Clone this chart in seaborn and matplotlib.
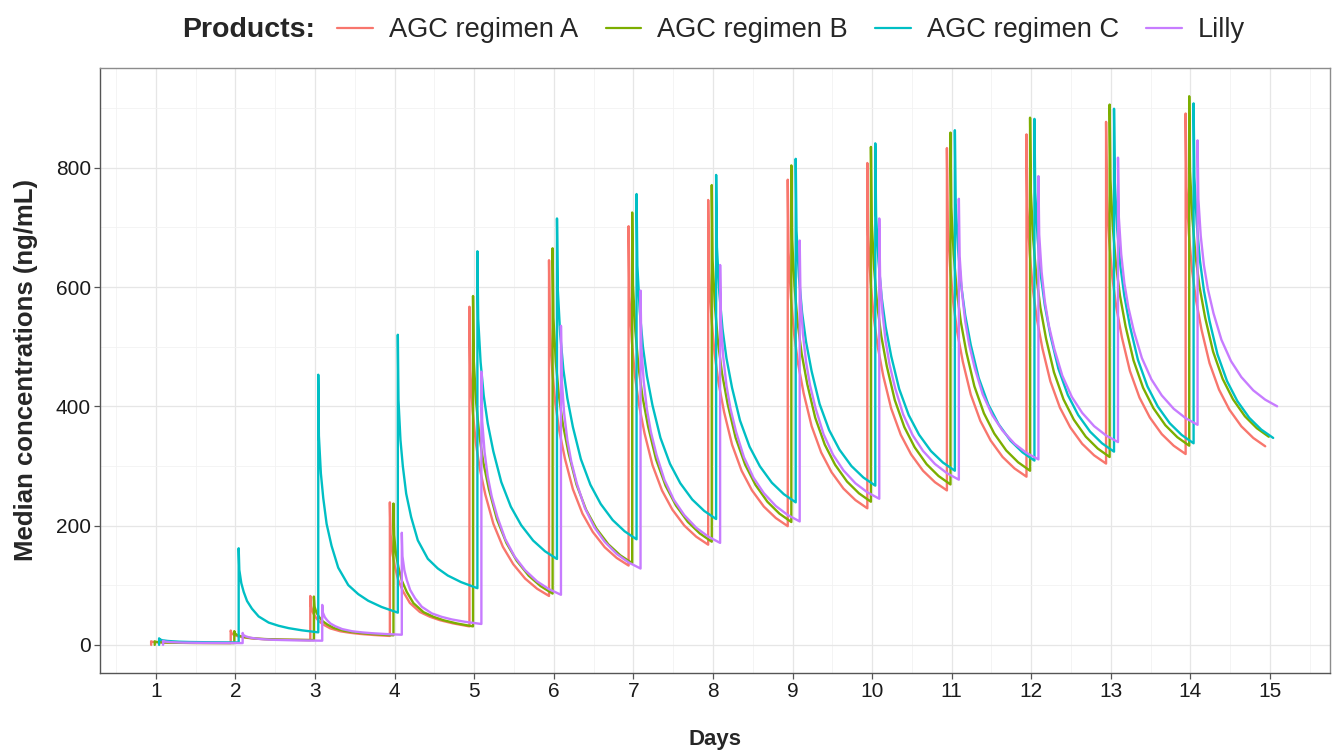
import numpy as np
import pandas as pd
import matplotlib
matplotlib.use("Agg")
import matplotlib.pyplot as plt
from matplotlib.lines import Line2D
from matplotlib.ticker import MultipleLocator
import seaborn as sns

# ---------------- data ----------------
products = ["AGC regimen A", "AGC regimen B", "AGC regimen C", "Lilly"]
colors = ["#F8766D", "#7CAE00", "#00BFC4", "#C77CFF"]
dose_days = list(range(1, 15))
dose_offset = [-0.06, -0.015, 0.04, 0.09]

peak_A = [6, 24, 82, 239, 567, 645, 702, 746, 780, 808, 833, 856, 877, 891]
peak_B = [6, 23, 81, 237, 585, 665, 725, 771, 804, 835, 859, 884, 906, 920]
peak_C = [11, 162, 453, 520, 660, 715, 756, 788, 815, 841, 863, 882, 899, 908]
peak_L = [7, 20, 67, 188, 458, 535, 594, 637, 678, 715, 748, 786, 817, 846]

trough_A = [3, 8, 15, 31, 82, 133, 168, 199, 229, 259, 282, 304, 320, 333]
trough_B = [3, 8, 16, 31, 86, 137, 173, 206, 240, 269, 292, 315, 334, 349]
trough_C = [4, 21, 54, 95, 144, 177, 211, 239, 267, 292, 309, 324, 338, 347]
trough_L = [3, 7, 17, 35, 84, 128, 171, 207, 245, 277, 311, 340, 369, 400]

# decay shape within one dosing interval (fraction of the peak-to-trough span)
early_tau = [0.0, 0.008, 0.033, 0.063, 0.105, 0.167, 0.251, 0.377, 0.502, 0.628, 0.795, 1.0]
early_frac = [1.0, 0.743, 0.585, 0.481, 0.373, 0.281, 0.189, 0.116, 0.078, 0.05, 0.024, 0.0]
late_tau = [0.0, 0.01, 0.04, 0.08, 0.13, 0.2, 0.3, 0.42, 0.55, 0.7, 0.85, 1.0]
late_frac = [1.0, 0.78, 0.64, 0.53, 0.44, 0.35, 0.25, 0.17, 0.11, 0.06, 0.025, 0.0]
n_early_intervals = 4

x_ticks = list(range(1, 16))
y_ticks = [0, 200, 400, 600, 800]

# ---------------- build long table ----------------
peaks = [peak_A, peak_B, peak_C, peak_L]
troughs = [trough_A, trough_B, trough_C, trough_L]
rows = []
for name, off, pk, tr in zip(products, dose_offset, peaks, troughs):
    rows.append((dose_days[0] + off, 0.0, name))
    for i, (d, p, t) in enumerate(zip(dose_days, pk, tr)):
        t0 = d + off
        taus, fracs = (early_tau, early_frac) if i < n_early_intervals else (late_tau, late_frac)
        for tau, f in zip(taus, fracs):
            rows.append((t0 + tau, t + (p - t) * f, name))
df = pd.DataFrame(rows, columns=["Days", "Conc", "Product"])

# ---------------- plot ----------------
sns.set_theme(style="white")
plt.rcParams["font.family"] = ["Liberation Sans", "DejaVu Sans"]

fig = plt.figure(figsize=(13.33, 7.51), dpi=100)
ax = fig.add_axes([0.075, 0.104, 0.9225, 0.806])

sns.lineplot(data=df, x="Days", y="Conc", hue="Product", hue_order=products,
             palette=colors, estimator=None, sort=False, linewidth=1.7,
             legend=False, ax=ax)

ax.set_xlim(0.297, 15.75)
ax.set_ylim(-47, 968)
ax.set_xticks(x_ticks)
ax.set_yticks(y_ticks)
ax.xaxis.set_minor_locator(MultipleLocator(0.5))
ax.yaxis.set_minor_locator(MultipleLocator(100))
ax.grid(which="major", color="#E6E6E6", linewidth=0.9)
ax.grid(which="minor", color="#F2F2F2", linewidth=0.6)
ax.set_axisbelow(True)
for s in ax.spines.values():
    s.set_color("#8C8C8C")
    s.set_linewidth(1.0)
ax.spines["left"].set_color("#555555")
ax.spines["bottom"].set_color("#555555")
ax.tick_params(axis="both", which="major", direction="out", length=4, width=0.9,
               color="#555555", labelsize=15, labelcolor="#1A1A1A", pad=2.5)
ax.tick_params(which="minor", length=0)
ax.tick_params(axis="x", bottom=True)
ax.tick_params(axis="y", left=True)

ax.set_xlabel("Days", fontsize=16, fontweight="bold", labelpad=20)
ax.set_ylabel("Median concentrations (ng/mL)", fontsize=18.5, fontweight="bold", labelpad=13)

# legend on top
fig.text(0.137, 0.960, "Products:", fontsize=20.5, fontweight="bold", ha="left", va="center")
handles = [Line2D([0], [0], color=c, linewidth=1.6) for c in colors]
fig.legend(handles, products, loc="center left", bbox_to_anchor=(0.245, 0.960),
           ncol=4, frameon=False, fontsize=19.6, handlelength=1.3, handletextpad=0.6,
           columnspacing=1.0, borderaxespad=0)

fig.savefig("out.png", dpi=100)
